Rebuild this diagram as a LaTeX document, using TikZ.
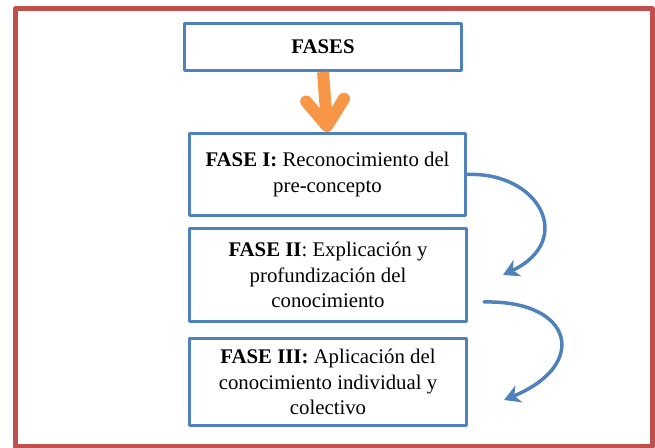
\documentclass[tikz,border=0pt]{standalone}
\usepackage{fontspec}
\setmainfont{Liberation Serif}
\usetikzlibrary{arrows.meta}
\definecolor{redframe}{HTML}{C0504D}
\definecolor{bluebox}{HTML}{4F81BD}
\definecolor{orangearrow}{HTML}{F79646}
\begin{document}
\begin{tikzpicture}[x=1pt,y=1pt,line join=round,font=\fontsize{20.8}{25.5}\selectfont,
	fasebox/.style={draw=bluebox,line width=3pt,minimum width=277pt,align=center,inner sep=0pt},
	fasedown/.style={draw=orangearrow,line width=12pt,-{Straight Barb[length=26pt,width=38pt,round]}},
	faseturn/.style={draw=bluebox,line width=3.5pt,line cap=round,-{Stealth[length=16pt,width=18pt,inset=5pt]}}]
	\useasboundingbox (0,0) rectangle (655,447);
	\draw[redframe,line width=5pt] (15,1) rectangle (652,438);
	
	\node[fasebox,minimum height=47pt] (fases) at (323,400) {\textbf{FASES}};
	\node[fasebox,minimum width=276pt,minimum height=82pt] (fase1) at (327.5,272.5)
		{\textbf{FASE I:} Reconocimiento del\\pre-concepto};
	\node[fasebox,minimum height=93pt] (fase2) at (328,172)
		{\textbf{FASE II}: Explicación y\\profundización del\\conocimiento};
	\node[fasebox,minimum height=87pt] (fase3) at (328,65)
		{\textbf{FASE III:} Aplicación del\\conocimiento individual y\\colectivo};
	
	\coordinate (turn1) at ([xshift=35pt]fase2.east);
	\coordinate (from2) at ([xshift=16pt,yshift=-27pt]fase2.east);
	\coordinate (turn2) at ([xshift=36pt,yshift=-18pt]fase3.east);
	
	\draw[fasedown] (fases.south) -- (fase1.north);
	\draw[faseturn] (fase1.east) .. controls +(72,3) and +(73,35) .. (turn1);
	\draw[faseturn] (from2) .. controls +(90,2) and +(85,35) .. (turn2);
\end{tikzpicture}
\end{document}
